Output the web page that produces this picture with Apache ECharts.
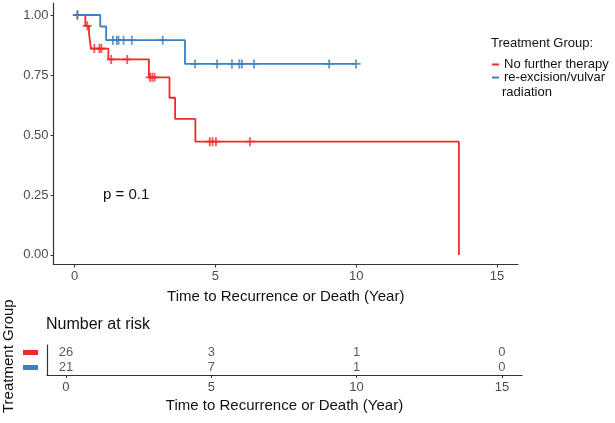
<!DOCTYPE html>
<html>
<head>
<meta charset="utf-8">
<script src="https://cdn.jsdelivr.net/npm/echarts@6/dist/echarts.min.js"></script>
<style>html,body{margin:0;padding:0;background:#fff}#c{width:615px;height:423px}</style>
</head>
<body>
<div id="c"></div>
<script>
// ---- data ----
const groupNames = ['No further therapy', 're-excision/vulvar radiation'];
const xTicks = [0, 5, 10, 15];
const yTicks = [0, 0.25, 0.5, 0.75, 1];
// Kaplan-Meier step points [time, survival after step]
const redCurve = [[0, 1], [0.38, 0.955], [0.51, 0.925], [0.58, 0.86], [1.2, 0.815], [2.64, 0.74], [3.37, 0.655], [3.57, 0.567], [4.29, 0.472], [13.65, 0]];
const blueCurve = [[0, 1], [0.91, 0.952], [1.12, 0.895], [3.92, 0.796], [10.0, 0.796]];
// censor times
const redCensor = [0.1, 0.45, 0.7, 0.88, 0.95, 1.3, 1.87, 2.68, 2.76, 2.84, 4.8, 4.9, 5.02, 6.23];
const blueCensor = [0.1, 1.36, 1.5, 1.56, 1.74, 2.03, 3.13, 4.28, 5.06, 5.59, 5.85, 5.94, 6.37, 9.04, 10.0];
// number at risk
const riskTimes = [0, 5, 10, 15];
const riskRed = [26, 3, 1, 0];
const riskBlue = [21, 7, 1, 0];
const pText = 'p = 0.1';

const RED = '#EE2A2A', BLUE = '#3A80C2';
const FONT = 'Liberation Sans, Arial, sans-serif';

function survAt(curve, t) {
  let s = curve[0][1];
  for (const [ct, cs] of curve) { if (ct <= t) s = cs; }
  return s;
}
const plus = 'path://M4,0H6V4H10V6H6V10H4V6H0V4H4Z';

const chart = echarts.init(document.getElementById('c'), null, {renderer: 'canvas'});
const axisCol = '#333';
const option = {
  backgroundColor: '#fff',
  animation: false,
  textStyle: {fontFamily: FONT},
  grid: [
    {left: 53.5, top: 3, width: 464.5, height: 261.5},
    {left: 47, top: 345, width: 475, height: 30}
  ],
  xAxis: [
    {gridIndex: 0, type: 'value', min: -0.75, max: 15.75,
     axisLine: {show: true, onZero: false, lineStyle: {color: axisCol, width: 1.2}},
     axisTick: {show: true, length: 3, customValues: xTicks, lineStyle: {color: axisCol}},
     axisLabel: {customValues: xTicks, color: '#4d4d4d', fontSize: 13, margin: 5, fontFamily: FONT},
     splitLine: {show: false},
     name: 'Time to Recurrence or Death (Year)', nameLocation: 'middle', nameGap: 25,
     nameTextStyle: {color: '#111', fontSize: 15, fontFamily: FONT}},
    {gridIndex: 1, type: 'value', min: -0.65, max: 15.69,
     axisLine: {show: true, onZero: false, lineStyle: {color: axisCol, width: 1.2}},
     axisTick: {show: true, length: 3, customValues: riskTimes, lineStyle: {color: axisCol}},
     axisLabel: {customValues: riskTimes, color: '#4d4d4d', fontSize: 13, margin: 6, fontFamily: FONT},
     splitLine: {show: false},
     name: 'Time to Recurrence or Death (Year)', nameLocation: 'middle', nameGap: 23,
     nameTextStyle: {color: '#111', fontSize: 15, fontFamily: FONT}}
  ],
  yAxis: [
    {gridIndex: 0, type: 'value', min: -0.04, max: 1.05,
     axisLine: {show: true, onZero: false, lineStyle: {color: axisCol, width: 1.2}},
     axisTick: {show: true, length: 3, customValues: yTicks, lineStyle: {color: axisCol}},
     axisLabel: {customValues: yTicks, color: '#4d4d4d', fontSize: 13, margin: 5, fontFamily: FONT,
                 formatter: v => v.toFixed(2)},
     splitLine: {show: false}},
    {gridIndex: 1, type: 'category', data: ['a', 'b'], inverse: true,
     axisLine: {show: true, onZero: false, lineStyle: {color: axisCol, width: 1.2}},
     axisTick: {show: false},
     axisLabel: {margin: 9, interval: 0, hideOverlap: false,
       formatter: v => v === 'a' ? '{r|}' : '{u|}',
       rich: {r: {backgroundColor: RED, width: 15, height: 5}, u: {backgroundColor: BLUE, width: 15, height: 5}}},
     splitLine: {show: false}}
  ],
  legend: {
    orient: 'vertical', left: 487, top: 53, itemGap: 0, itemWidth: 7, itemHeight: 2,
    icon: 'rect', data: groupNames,
    formatter: n => n === groupNames[1] ? 're-excision/vulvar' : n,
    textStyle: {fontSize: 13, color: '#111', fontFamily: FONT}
  },
  graphic: [
    {type: 'text', left: 491, top: 37, style: {text: 'Treatment Group:', fill: '#111', font: '13px ' + FONT}},
    {type: 'text', left: 502, top: 86, style: {text: 'radiation', fill: '#111', font: '13px ' + FONT}},
    {type: 'text', left: 103, top: 187, style: {text: pText, fill: '#111', font: '15px ' + FONT}},
    {type: 'text', left: 46, top: 317, style: {text: 'Number at risk', fill: '#111', font: '16px ' + FONT}},
    {type: 'text', x: 1, y: 413, rotation: Math.PI / 2, style: {text: 'Treatment Group', fill: '#111', font: '15px ' + FONT}}
  ],
  series: [
    {name: groupNames[0], type: 'line', step: 'end', xAxisIndex: 0, yAxisIndex: 0, data: redCurve,
     showSymbol: false, color: RED, lineStyle: {color: RED, width: 1.8}},
    {name: groupNames[1], type: 'line', step: 'end', xAxisIndex: 0, yAxisIndex: 0, data: blueCurve,
     showSymbol: false, color: BLUE, lineStyle: {color: BLUE, width: 1.8}},
    {name: groupNames[0], type: 'scatter', xAxisIndex: 0, yAxisIndex: 0, symbol: plus, symbolSize: 9,
     itemStyle: {color: RED}, data: redCensor.map(t => [t, survAt(redCurve, t)])},
    {name: groupNames[1], type: 'scatter', xAxisIndex: 0, yAxisIndex: 0, symbol: plus, symbolSize: 9,
     itemStyle: {color: BLUE}, data: blueCensor.map(t => [t, survAt(blueCurve, t)])},
    {type: 'scatter', xAxisIndex: 1, yAxisIndex: 1, symbolSize: 0.1, itemStyle: {color: 'transparent'},
     label: {show: true, position: 'inside', formatter: p => String(p.value[2]), color: '#333', fontSize: 13, fontFamily: FONT},
     data: riskTimes.map((t, i) => [t, 'a', riskRed[i]]).concat(riskTimes.map((t, i) => [t, 'b', riskBlue[i]]))}
  ]
};
chart.setOption(option);
</script>
</body>
</html>
